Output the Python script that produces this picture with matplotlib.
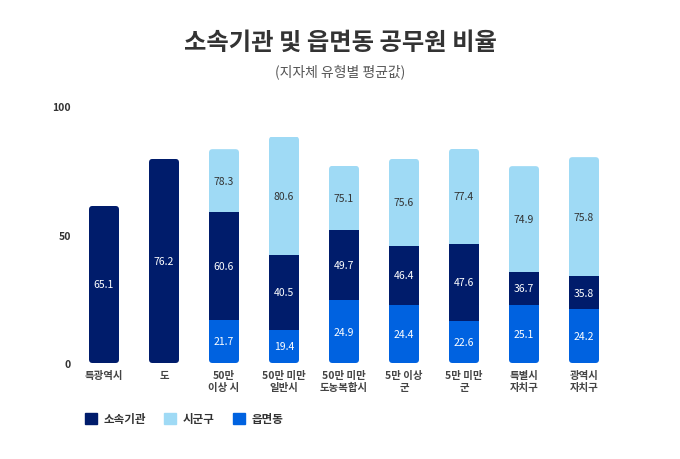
import matplotlib
matplotlib.use('Agg')
import matplotlib.pyplot as plt
from matplotlib.patches import FancyBboxPatch, Patch

plt.rcParams['font.family'] = ['Noto Sans CJK KR', 'DejaVu Sans']

# 카테고리 (x축)
categories = ['특광역시', '도', '50만\n이상 시', '50만 미만\n일반시', '50만 미만\n도농복합시',
              '5만 이상\n군', '5만 미만\n군', '특별시\n자치구', '광역시\n자치구']

# 그림에서 읽은 막대 높이 (축 단위)
dong_h = [0, 0, 16.8, 13.0, 24.5, 22.7, 16.5, 22.6, 21.0]
agency_h = [61.1, 79.4, 42.0, 29.2, 27.4, 23.0, 29.8, 12.8, 12.8]
sigungu_h = [0, 0, 24.4, 45.9, 24.8, 33.7, 37.0, 41.2, 46.3]

# 막대 안에 표시된 값
dong_lbl = ['', '', '21.7', '19.4', '24.9', '24.4', '22.6', '25.1', '24.2']
agency_lbl = ['65.1', '76.2', '60.6', '40.5', '49.7', '46.4', '47.6', '36.7', '35.8']
sigungu_lbl = ['', '', '78.3', '80.6', '75.1', '75.6', '77.4', '74.9', '75.8']

C_AGENCY = '#001c6b'
C_SIGUNGU = '#9fdaf5'
C_DONG = '#0062e0'

fig = plt.figure(figsize=(6.8, 4.6), dpi=100)
ax = fig.add_axes([74 / 680, (460 - 364) / 460, 540 / 680, 257 / 460])

x = list(range(len(categories)))
width = 0.5

bottoms2 = [d + a for d, a in zip(dong_h, agency_h)]
totals = [b + s for b, s in zip(bottoms2, sigungu_h)]

b1 = ax.bar(x, dong_h, width, color=C_DONG)
b2 = ax.bar(x, agency_h, width, bottom=dong_h, color=C_AGENCY)
b3 = ax.bar(x, sigungu_h, width, bottom=bottoms2, color=C_SIGUNGU)

ax.set_xlim(-0.5, 8.5)
ax.set_ylim(0, 100)

# 둥근 모서리: 전체 막대 모양으로 클리핑
px_x = 540 / 9.0
px_y = 257 / 100.0
r = 3.5 / px_x
for i in x:
    clip = FancyBboxPatch((i - width / 2, 0), width, totals[i],
                          boxstyle='round,pad=0,rounding_size=%f' % r,
                          mutation_aspect=px_x / px_y,
                          transform=ax.transData, facecolor='none', edgecolor='none')
    ax.add_patch(clip)
    for bars in (b1, b2, b3):
        bars[i].set_clip_path(clip)

# 값 라벨
for i in x:
    if dong_lbl[i]:
        ax.text(i, dong_h[i] / 2, dong_lbl[i], ha='center', va='center',
                color='white', fontsize=7.5)
    ax.text(i, dong_h[i] + agency_h[i] / 2, agency_lbl[i], ha='center', va='center',
            color='white', fontsize=7.5)
    if sigungu_lbl[i]:
        ax.text(i, bottoms2[i] + sigungu_h[i] / 2, sigungu_lbl[i], ha='center',
                va='center', color='#333333', fontsize=7.5)

ax.set_yticks([0, 50, 100])
ax.set_yticklabels(['0', '50', '100'], fontsize=7.5, color='#333333', fontweight='bold')
ax.set_xticks(x)
ax.set_xticklabels(categories, fontsize=7.5, color='#444444', fontweight='bold',
                   linespacing=1.25)
ax.tick_params(axis='both', length=0)
ax.tick_params(axis='y', pad=2)
ax.tick_params(axis='x', pad=5)
for s in ax.spines.values():
    s.set_visible(False)

fig.text(0.5, 1 - 43 / 460, '소속기관 및 읍면동 공무원 비율', ha='center', va='center',
         fontsize=17.5, fontweight='bold', color='#333333')
fig.text(0.5, 1 - 72 / 460, '(지자체 유형별 평균값)', ha='center', va='center',
         fontsize=10, color='#555555')

handles = [Patch(color=C_AGENCY, label='소속기관'),
           Patch(color=C_SIGUNGU, label='시군구'),
           Patch(color=C_DONG, label='읍면동')]
leg = fig.legend(handles=handles, loc='center left', bbox_to_anchor=(85 / 680, 1 - 420 / 460),
                 ncol=3, frameon=False, fontsize=8.3, handlelength=1.0, handleheight=1.0,
                 handletextpad=0.6, columnspacing=1.6, borderpad=0, borderaxespad=0)
for t in leg.get_texts():
    t.set_color('#333333')
    t.set_fontweight('bold')

fig.savefig('out.png', dpi=100, facecolor='white')
